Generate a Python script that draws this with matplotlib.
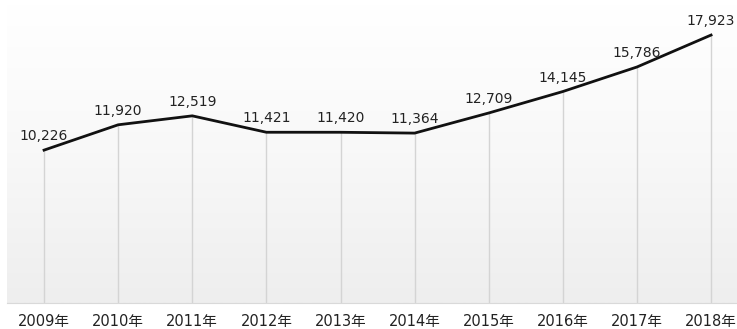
import matplotlib.pyplot as plt
import numpy as np

plt.rcParams['font.family'] = ['DejaVu Sans', 'Noto Sans CJK SC']

years = ['2009年', '2010年', '2011年', '2012年', '2013年',
         '2014年', '2015年', '2016年', '2017年', '2018年']
values = [10226, 11920, 12519, 11421, 11420, 11364, 12709, 14145, 15786, 17923]

fig = plt.figure(figsize=(7.37, 3.29), dpi=100)
ax = fig.add_axes([7 / 737, 26 / 329, 730 / 737, 299 / 329])

x = np.arange(len(values))
ax.set_xlim(-0.5, 9.35)
ax.set_ylim(0, 20000)

# soft gray gradient background
grad = np.linspace(0, 1, 256).reshape(-1, 1)
ax.imshow(grad, extent=(-0.5, 9.35, 0, 20000), aspect='auto', origin='upper',
          cmap=plt.matplotlib.colors.LinearSegmentedColormap.from_list(
              'bg', ['#ffffff', '#f8f8f8', '#eeeeee']), zorder=0)

# drop lines
ax.vlines(x, 0, values, color='#d4d4d4', linewidth=1, zorder=1)

ax.plot(x, values, color='#111111', linewidth=2, zorder=3)

for xi, v in zip(x, values):
    ax.annotate(f'{v:,}', xy=(xi, v), xytext=(0, 5), textcoords='offset points',
                ha='center', va='bottom', fontsize=10, color='#222222')

ax.set_xticks(x)
ax.set_xticklabels(years, fontsize=10.5, color='#222222')
ax.tick_params(axis='x', length=0, pad=8)
ax.set_yticks([])
for s in ['top', 'left', 'right']:
    ax.spines[s].set_visible(False)
ax.spines['bottom'].set_color('#d9d9d9')

fig.savefig('out.png', dpi=100)
